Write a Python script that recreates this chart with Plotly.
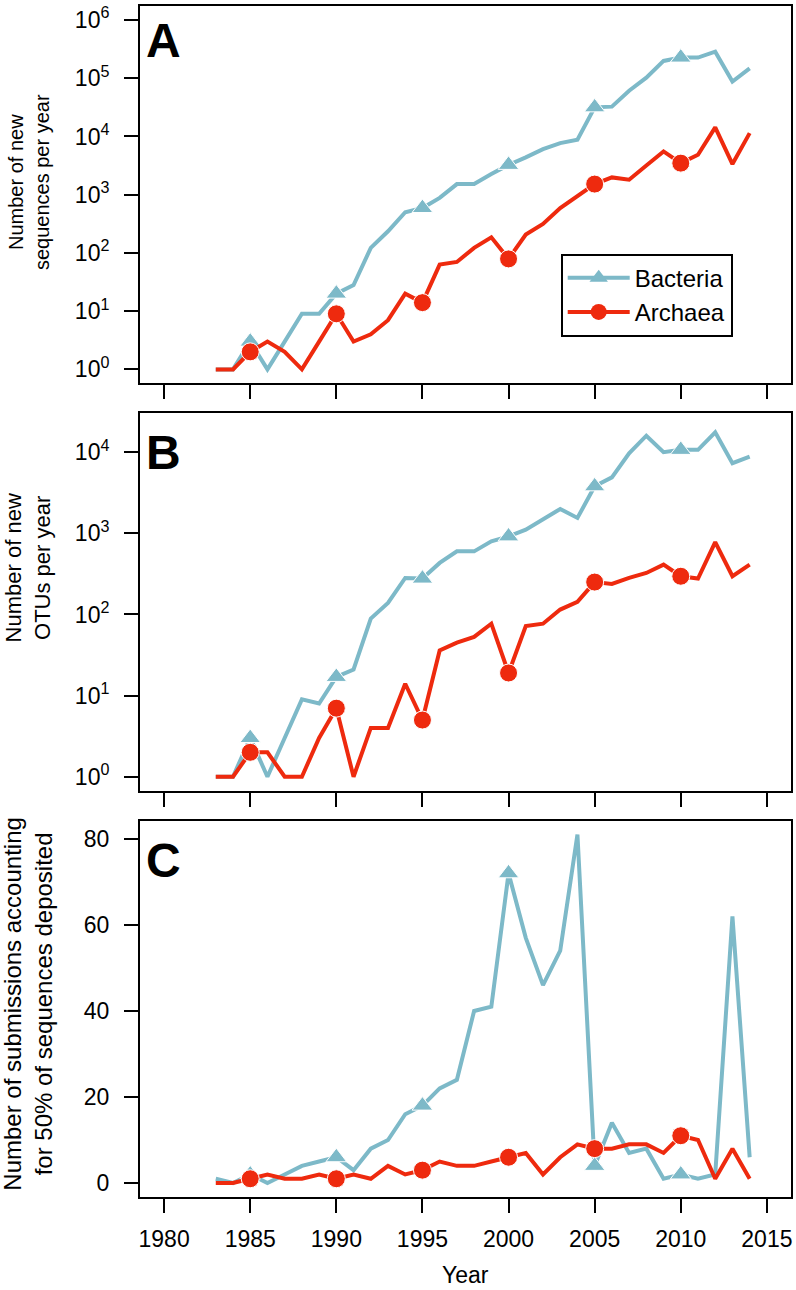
import plotly.graph_objects as go

years = list(range(1983, 2015))
bac_seq = [1, 1, 3, 1, 3, 9, 9, 20, 28, 122, 235, 500, 590, 880, 1520, 1520, 2260, 3250,
           4370, 6050, 7690, 8800, 31600, 32500, 60900, 102000, 198000, 226000, 226000,
           286000, 87800, 147000]
arc_seq = [1, 1, 2, 3, 2, 1, 3, 9, 3, 4, 7, 20, 14, 63, 70, 122, 185, 79, 207, 315, 590,
           940, 1520, 1980, 1810, 3170, 5530, 3480, 4850, 14300, 3360, 11400]
bac_otu = [1, 1, 3, 1, 3, 9, 8, 17, 21, 89, 139, 282, 277, 432, 600, 600, 800, 918, 1110,
           1500, 2000, 1550, 3800, 4900, 9700, 16000, 10000, 10700, 10700, 17600, 7330, 8850]
arc_otu = [1, 1, 2, 2, 1, 1, 3, 7, 1, 4, 4, 14, 5, 36, 45, 53, 77, 19, 72, 77, 115, 143,
           251, 238, 283, 325, 412, 296, 277, 780, 296, 412]
bac_sub = [1, 0, 2, 0, 2, 4, 5, 6, 3, 8, 10, 16, 18, 22, 24, 40, 41, 72, 57, 46, 54, 81,
           4, 14, 7, 8, 1, 2, 1, 2, 62, 6]
arc_sub = [0, 0, 1, 2, 1, 1, 2, 1, 2, 1, 4, 2, 3, 5, 4, 4, 5, 6, 7, 2, 6, 9, 8, 8, 9, 9,
           7, 11, 10, 1, 8, 1]

x_ticks = [1980, 1985, 1990, 1995, 2000, 2005, 2010, 2015]
log_ticks_a = [1, 10, 100, 1000, 10000, 100000, 1000000]
log_text_a = ["10<sup>0</sup>", "10<sup>1</sup>", "10<sup>2</sup>", "10<sup>3</sup>",
              "10<sup>4</sup>", "10<sup>5</sup>", "10<sup>6</sup>"]
log_ticks_b = log_ticks_a[:5]
log_text_b = log_text_a[:5]
lin_ticks_c = [0, 20, 40, 60, 80]

BLUE = "#7DB9C8"
RED = "#EE2A0E"
FONT = "Liberation Sans, Arial, sans-serif"

tri_size = [18 if y % 5 == 0 else 0 for y in years]
dot_size = [18 if y % 5 == 0 else 0 for y in years]

fig = go.Figure()

panels = [("x", "y", bac_seq, arc_seq), ("x2", "y2", bac_otu, arc_otu), ("x3", "y3", bac_sub, arc_sub)]
for xa, ya, b, a in panels:
    fig.add_trace(go.Scatter(x=years, y=b, xaxis=xa, yaxis=ya, mode="lines+markers",
                             line=dict(color=BLUE, width=4),
                             marker=dict(symbol="triangle-up", size=tri_size, color=BLUE, opacity=1),
                             showlegend=False, hoverinfo="skip"))
    fig.add_trace(go.Scatter(x=years, y=a, xaxis=xa, yaxis=ya, mode="lines+markers",
                             line=dict(color=RED, width=4),
                             marker=dict(symbol="circle", size=dot_size, color=RED, opacity=1),
                             showlegend=False, hoverinfo="skip"))

# legend entries
fig.add_trace(go.Scatter(x=[None], y=[None], mode="lines+markers", name="Bacteria",
                         line=dict(color=BLUE, width=4),
                         marker=dict(symbol="triangle-up", size=16, color=BLUE, opacity=1)))
fig.add_trace(go.Scatter(x=[None], y=[None], mode="lines+markers", name="Archaea",
                         line=dict(color=RED, width=4),
                         marker=dict(symbol="circle", size=16, color=RED, opacity=1)))

H = 1193.0
def fy(Y):
    return (1197.0 - Y) / H

common_axis = dict(showline=True, linecolor="black", linewidth=2, mirror=True,
                   ticks="outside", ticklen=14, tickwidth=2, tickcolor="black",
                   showgrid=False, zeroline=False,
                   tickfont=dict(family=FONT, size=23, color="black"))

xr = [1978.6, 2016.4]
fig.update_layout(
    width=796, height=1290,
    margin=dict(l=140, r=3, t=4, b=93),
    paper_bgcolor="white", plot_bgcolor="white",
    font=dict(family=FONT, color="black"),
    xaxis=dict(common_axis, anchor="y", range=xr, tickvals=x_ticks, showticklabels=False),
    xaxis2=dict(common_axis, anchor="y2", range=xr, tickvals=x_ticks, showticklabels=False),
    xaxis3=dict(common_axis, anchor="y3", range=xr, tickvals=x_ticks,
                ticklabelstandoff=6),
    yaxis=dict(common_axis, anchor="x", type="log", range=[-0.24, 6.24],
               tickvals=log_ticks_a, ticktext=log_text_a, domain=[fy(382), 1.0],
               ticklabelstandoff=10),
    yaxis2=dict(common_axis, anchor="x2", type="log", range=[-0.172, 4.48],
                tickvals=log_ticks_b, ticktext=log_text_b, domain=[fy(790), fy(412)],
                ticklabelstandoff=10),
    yaxis3=dict(common_axis, anchor="x3", range=[-3.24, 84.24],
                tickvals=lin_ticks_c, domain=[0.0, fy(820)], ticklabelstandoff=10),
    legend=dict(x=(562 - 140) / 653, y=fy(252), xanchor="left", yanchor="top",
                bordercolor="black", borderwidth=2, bgcolor="white",
                font=dict(family=FONT, size=24, color="black"),
                itemwidth=62, tracegroupgap=0),
)

annos = [
    dict(text="<b>A</b>", x=144, y=39, size=48),
    dict(text="<b>B</b>", x=144, y=451, size=48),
    dict(text="<b>C</b>", x=144, y=860, size=48),
]
for a in annos:
    fig.add_annotation(text=a["text"], xref="paper", yref="paper",
                       x=(a["x"] - 140) / 653, y=fy(a["y"]), xanchor="left", yanchor="middle",
                       showarrow=False, font=dict(family=FONT, size=a["size"], color="black"))

titles = [
    ("Number of new<br>sequences per year", 180, 20),
    ("Number of new<br>OTUs per year", 567, 22),
    ("Number of submissions accounting<br>for 50% of sequences deposited", 1003, 24),
]
for t, yc, sz in titles:
    fig.add_annotation(text=t, xref="paper", yref="paper", x=(28 - 140) / 653, y=fy(yc),
                       xanchor="center", yanchor="middle", textangle=-90, showarrow=False,
                       font=dict(family=FONT, size=sz, color="black"))

fig.add_annotation(text="Year", xref="paper", yref="paper", x=0.5, y=fy(1275),
                   xanchor="center", yanchor="middle", showarrow=False,
                   font=dict(family=FONT, size=23, color="black"))

fig.write_html("out.html", config={"displayModeBar": False},
               post_script="document.body.style.margin='0';")
